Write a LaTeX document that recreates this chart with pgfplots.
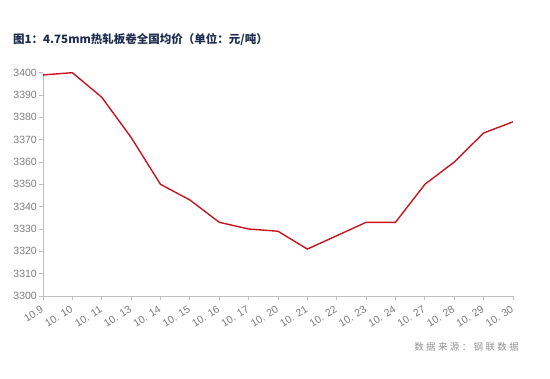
\documentclass[border=0pt]{standalone}
\usepackage{pgfplots}
\pgfplotsset{compat=1.18}
\usepackage{fontspec}
\setmainfont{Liberation Sans}
\newfontfamily\cjk{Noto Sans CJK SC}
\newfontfamily\cjksp[LetterSpace=25]{Noto Sans CJK SC}
\definecolor{linered}{RGB}{200,20,30}
\definecolor{axgray}{RGB}{190,190,190}
\definecolor{tickgray}{RGB}{125,125,125}
\definecolor{titleblue}{RGB}{30,45,80}
\begin{document}
\begin{tikzpicture}
\useasboundingbox (0pt,0pt) rectangle (550pt,379pt);
\node[anchor=west,inner sep=0pt,text=titleblue,font=\cjk\bfseries\fontsize{11.5}{13}\selectfont] at (13pt,339pt) {图1：4.75mm热轧板卷全国均价（单位：元/吨）};
\node[anchor=east,inner sep=0pt,text=tickgray!85,font=\cjksp\fontsize{9.5}{11}\selectfont] at (519pt,32pt) {数据来源：钢联数据};
\begin{axis}[
  at={(43pt,83pt)}, anchor=south west,
  scale only axis, width=470pt, height=223.3pt,
  xmin=0, xmax=16, ymin=3300, ymax=3400,
  ytick={3300,3310,...,3400},
  xtick={0,...,16},
  xticklabels={10.9,10. 10,10. 11,10. 13,10. 14,10. 15,10. 16,10. 17,10. 20,10. 21,10. 22,10. 23,10. 24,10. 27,10. 28,10. 29,10. 30},
  axis x line*=bottom, axis y line*=left,
  axis line style={axgray, line width=0.8pt},
  every tick/.style={axgray, line width=0.8pt},
  tick align=outside, major tick length=4pt,
  tick label style={text=tickgray, font=\fontsize{10.5}{12}\selectfont},
  /pgf/number format/assume math mode=true,
  /pgf/number format/1000 sep={},
  xticklabel style={rotate=32, anchor=north east, inner sep=3pt, xshift=-2pt},
  yticklabel style={inner sep=2pt},
  clip=false,
]
\addplot[linered, line width=1.4pt, mark=none] coordinates {
(0,3399) (1,3400) (2,3389) (3,3371) (4,3350) (5,3343) (6,3333) (7,3330)
(8,3329) (9,3321) (10,3327) (11,3333) (12,3333) (13,3350) (14,3360) (15,3373) (16,3378)
};
\end{axis}
\end{tikzpicture}
\end{document}
